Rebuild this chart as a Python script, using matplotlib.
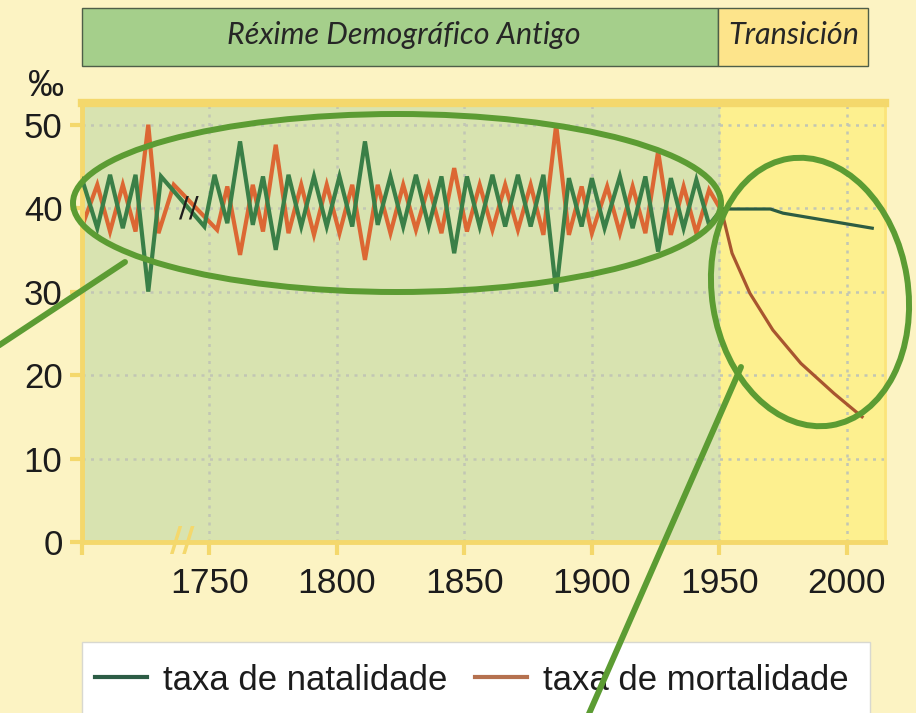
import matplotlib.pyplot as plt
from matplotlib.patches import Ellipse, Rectangle

# taxa de natalidade (por mil)
nat_years = [1700, 1706, 1711, 1716, 1721, 1726, 1731, 1748, 1752, 1757,
             1762, 1767, 1771, 1776, 1781, 1786, 1791, 1796, 1801, 1806,
             1811, 1816, 1821, 1826, 1831, 1836, 1841, 1846, 1851, 1856,
             1861, 1866, 1871, 1876, 1881, 1886, 1891, 1896, 1900, 1905,
             1911, 1916, 1921, 1926, 1931, 1936, 1941, 1946, 1951, 1970,
             1975, 2010]
nat_vals = [43.5, 37.6, 44.0, 37.6, 44.0, 30.0, 43.8, 37.8, 44.0, 38.2,
            48.0, 38.0, 43.8, 35.0, 44.0, 37.8, 43.8, 37.8, 43.8, 37.8,
            48.0, 38.0, 43.8, 37.8, 44.0, 37.8, 43.8, 34.6, 43.8, 37.8,
            44.0, 37.8, 44.0, 37.8, 44.0, 30.0, 43.6, 37.8, 43.6, 37.6,
            43.8, 37.6, 43.8, 34.8, 43.6, 37.6, 43.4, 38.0, 39.9, 39.9,
            39.4, 37.6]

# taxa de mortalidade (por mil)
mort_years = [1700, 1706, 1711, 1716, 1721, 1726, 1730, 1736, 1753, 1757,
              1762, 1767, 1771, 1776, 1781, 1786, 1791, 1796, 1801, 1806,
              1811, 1816, 1821, 1826, 1831, 1836, 1841, 1846, 1851, 1856,
              1861, 1866, 1871, 1876, 1881, 1886, 1891, 1896, 1900, 1906,
              1911, 1916, 1921, 1926, 1931, 1936, 1941, 1946, 1951, 1955,
              1962, 1971, 1982, 1995, 2006]
mort_vals = [37.8, 42.8, 37.2, 42.8, 37.2, 50.0, 37.0, 42.8, 37.4, 42.6,
             34.4, 42.8, 37.2, 47.6, 37.0, 42.8, 36.8, 42.8, 37.0, 42.8,
             33.8, 42.8, 37.0, 42.8, 37.4, 42.7, 37.0, 44.8, 37.2, 42.8,
             37.4, 42.8, 37.4, 42.8, 36.8, 50.0, 36.8, 42.6, 37.0, 42.6,
             37.0, 42.6, 37.0, 46.8, 36.8, 42.6, 37.0, 42.2, 39.6, 34.6,
             29.8, 25.4, 21.4, 17.8, 15.0]

x_ticks = [1700, 1750, 1800, 1850, 1900, 1950, 2000]
x_labels = ['', '1750', '1800', '1850', '1900', '1950', '2000']
y_ticks = [0, 10, 20, 30, 40, 50]
phase_names = ['Réxime Demográfico Antigo', 'Transición']
series_names = ['taxa de natalidade', 'taxa de mortalidade']
transition_year = 1950

plt.rcParams['font.family'] = ['Liberation Sans', 'DejaVu Sans']

page = '#fcf3c3'
old_green = '#d8e3b0'
trans_yellow = '#fdf08f'
border_yellow = '#f4d86c'
grid_col = '#c2c6b4'
ring_green = '#5c9c33'

fig = plt.figure(figsize=(9.16, 7.13), dpi=100, facecolor=page)
W, H = 916, 713
ax = fig.add_axes([82 / W, (H - 542) / H, (885 - 82) / W, (542 - 103) / H])
ax.set_facecolor(trans_yellow)
ax.set_xlim(1700, 2015)
ax.set_ylim(0, 52.6)
ax.axvspan(1700, transition_year, color=old_green, zorder=0)

# split each series at the start of the transition
k_n = nat_years.index(1951)
k_m = mort_years.index(1951)
ln_nat, = ax.plot(nat_years[:k_n + 1], nat_vals[:k_n + 1], color='#3a7f47',
                  lw=3.0, solid_joinstyle='miter', zorder=3)
ax.plot(nat_years[k_n:], nat_vals[k_n:], color='#2c5c42', lw=2.3, zorder=3)
ln_mort, = ax.plot(mort_years[:k_m + 1], mort_vals[:k_m + 1], color='#dc6733',
                   lw=3.0, solid_joinstyle='miter', zorder=2)
ax.plot(mort_years[k_m:], mort_vals[k_m:], color='#a8552f', lw=2.3, zorder=2)

# axis break marks
ax.text(1742, 40, '//', fontsize=21, color='#1e1e1e', ha='center', va='center',
        zorder=4, family='DejaVu Sans')
ax.text(1739.5, 0, '//', fontsize=24, color=border_yellow, ha='center', va='center',
        fontweight='bold', clip_on=False, zorder=4, family='DejaVu Sans')

ax.set_xticks(x_ticks)
ax.set_xticklabels(x_labels)
ax.set_yticks(y_ticks)
ax.tick_params(axis='x', length=9, width=3, color=border_yellow, labelsize=25.5,
               pad=9, labelcolor='#1c1c1c')
ax.tick_params(axis='y', length=9, width=3, color=border_yellow, labelsize=25,
               pad=5, labelcolor='#1c1c1c')
ax.grid(True, color=grid_col, linestyle=(0, (1.2, 2.2)), linewidth=1.8)
ax.set_axisbelow(True)
for side in ['left', 'bottom', 'top']:
    ax.spines[side].set_color(border_yellow)
    ax.spines[side].set_linewidth(3.5)
ax.spines['top'].set_linewidth(6)
ax.spines['right'].set_color('#fbe47a')
ax.spines['right'].set_linewidth(2)

# overlay in page pixels for header, legend box and the hand-drawn rings
ov = fig.add_axes([0, 0, 1, 1], zorder=3)
ov.set_xlim(0, W)
ov.set_ylim(H, 0)
ov.axis('off')
ov.patch.set_alpha(0)

ov.add_patch(Rectangle((82, 8), 636, 58, facecolor='#a5cf8b', edgecolor='#4e5e48', lw=1))
ov.add_patch(Rectangle((718, 8), 150, 58, facecolor='#fde48b', edgecolor='#4e5e48', lw=1))
ov.text(404, 35, phase_names[0], fontsize=22, style='italic', ha='center', va='center',
        color='#262626', family='Lato')
ov.text(794, 35, phase_names[1], fontsize=22, style='italic', ha='center', va='center',
        color='#262626', family='Lato')
ov.text(46, 86, '‰', fontsize=26, ha='center', va='center', color='#1c1c1c')

ov.add_patch(Rectangle((82, 642), 788, 90, facecolor='white', edgecolor='#d8d8d0',
                       lw=1, zorder=1))
ov.legend([ln_nat, ln_mort], series_names, loc='center left',
          bbox_to_anchor=(95, 680), bbox_transform=ov.transData, ncol=2,
          frameon=False, fontsize=25, handlelength=1.5, handletextpad=0.46,
          columnspacing=0.8, borderpad=0, borderaxespad=0,
          labelcolor='#1c1c1c')
leg = ov.get_legend()
leg.legend_handles[0].set_color('#2c5c45')
leg.legend_handles[1].set_color('#b5714f')
for h in leg.legend_handles:
    h.set_linewidth(3)

ov.add_patch(Ellipse((397, 203), 648, 178, fill=False, edgecolor=ring_green, lw=4.3, zorder=6))
ov.add_patch(Ellipse((810, 292), 196, 270, angle=-9, fill=False, edgecolor=ring_green,
                     lw=4.3, zorder=6))
ov.plot([125, -5], [262, 348], color=ring_green, lw=4.3, zorder=6, solid_capstyle='round')
ov.plot([741, 588], [367, 716], color=ring_green, lw=4.3, zorder=6, solid_capstyle='round')

fig.savefig('out.png', dpi=100, facecolor=page)
